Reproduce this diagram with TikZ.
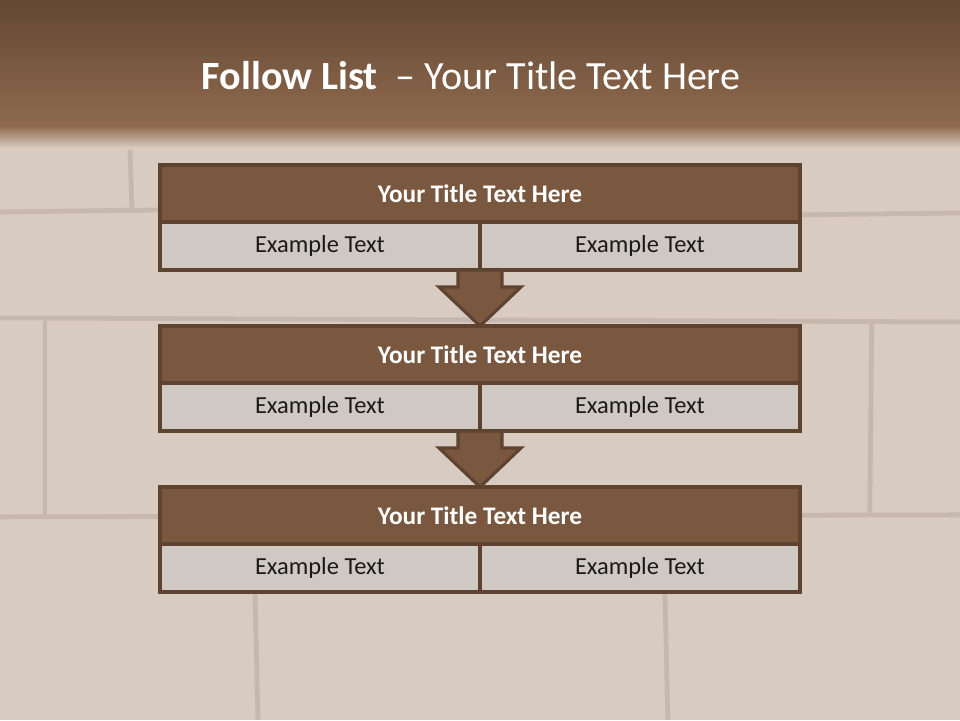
\documentclass[tikz,border=0pt]{standalone}
\usepackage{fontspec}
\setmainfont{Carlito}
\usepackage{tikz}
\usetikzlibrary{
    positioning,
    calc
}
\definecolor{bandtop}{HTML}{634834}
\definecolor{bandbot}{HTML}{8F6A4E}
\definecolor{wallbg}{HTML}{D8CBC1}
\definecolor{mortar}{HTML}{C6B8AD}
\definecolor{titlefill}{HTML}{7A5840}
\definecolor{cellfill}{HTML}{CFC8C3}
\definecolor{boxline}{HTML}{5E4331}
\definecolor{celltext}{HTML}{1A1A1A}

\begin{document}
\begin{tikzpicture}[
        titlebox/.style={
            draw=boxline,
            fill=titlefill,
            line width=2.2pt,
            minimum width=16cm,
            minimum height=1.425cm,
            inner sep=0pt,
            outer sep=0pt,
            text=white,
            font=\fontsize{18}{21}\selectfont\bfseries
        },
        cellbox/.style={
            draw=boxline,
            fill=cellfill,
            line width=2.2pt,
            minimum width=8cm,
            minimum height=1.2cm,
            inner sep=0pt,
            outer sep=0pt,
            text=celltext,
            font=\fontsize{17.4}{20}\selectfont
        },
        downarrow/.style={
            draw=boxline,
            fill=titlefill,
            line width=2.2pt
        }
    ]
        \useasboundingbox (0,0) rectangle (24,18);
        % wall and heading band
        \fill[wallbg] (0,0) rectangle (24,18);
        \begin{scope}[x=0.025cm, y=-0.025cm, yshift=18cm, mortar, line width=0.12cm]
            \draw (0,212) -- (160,210);
            \draw (800,215) -- (960,213);
            \draw (0,318) -- (960,322);
            \draw (0,517) -- (960,515);
            \draw (45,320) -- (45,515);
            \draw (130,150) -- (132,210);
            \draw (255,590) -- (258,720);
            \draw (665,590) -- (668,720);
            \draw (872,322) -- (870,515);
        \end{scope}
        \shade[top color=bandtop, bottom color=bandbot] (0,18) rectangle (24,14.85);
        \shade[top color=bandbot, bottom color=wallbg] (0,14.85) rectangle (24,14.3);
        \node[text=white, font=\fontsize{28.5}{34}\selectfont] (heading) at (11.78,16.1)
            {\textbf{Follow List}\ \ -- Your Title Text Here};

        % three steps
        \node[titlebox] (t1) at (12,13.1625) {Your Title Text Here};
        \node[cellbox, below right=0pt and 0pt of t1.south west] (l1) {Example Text};
        \node[cellbox, right=0pt of l1] (r1) {Example Text};

        \node[titlebox, below=2.6cm of t1] (t2) {Your Title Text Here};
        \node[cellbox, below right=0pt and 0pt of t2.south west] (l2) {Example Text};
        \node[cellbox, right=0pt of l2] (r2) {Example Text};

        \node[titlebox, below=2.6cm of t2] (t3) {Your Title Text Here};
        \node[cellbox, below right=0pt and 0pt of t3.south west] (l3) {Example Text};
        \node[cellbox, right=0pt of l3] (r3) {Example Text};

        % arrows between steps
        \foreach \a/\b in {l1/t2, l2/t3}
            \draw[downarrow] ($(\a.south east)+(-0.55,0)$) -- ++(0,-0.425) -- ++(-0.475,0)
                -- (\b.north) -- ($(\a.south east)+(1.025,-0.425)$) -- ++(-0.475,0)
                -- ($(\a.south east)+(0.55,0)$) -- cycle;
    \end{tikzpicture}
\end{document}
